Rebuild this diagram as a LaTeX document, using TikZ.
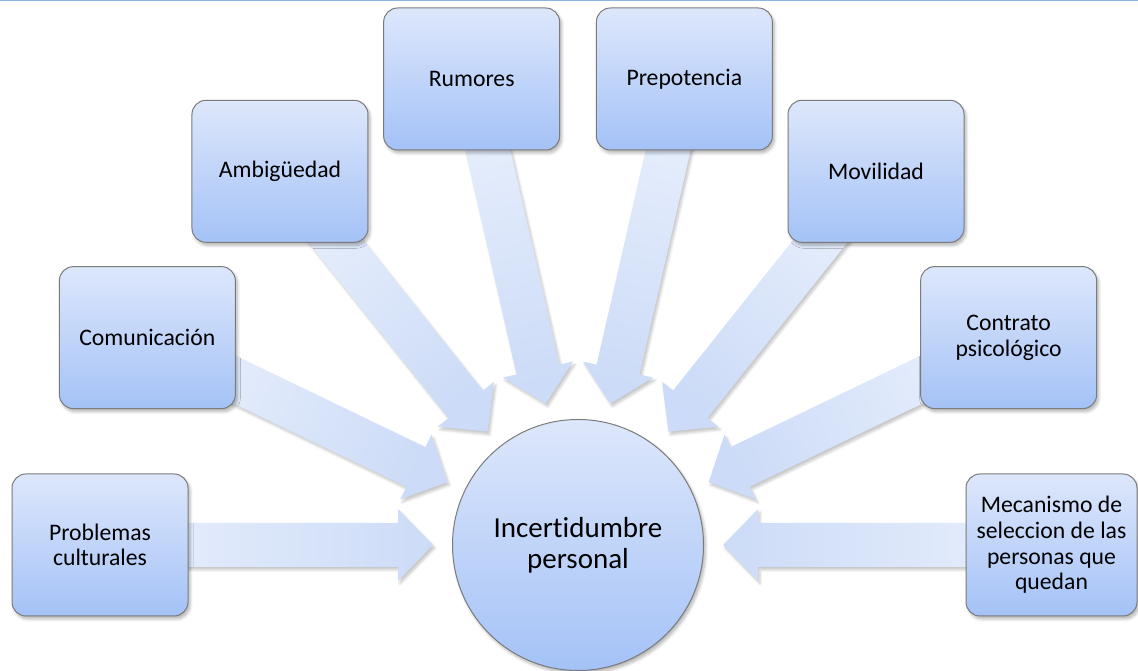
\documentclass[tikz,border=0pt]{standalone}
\usepackage{fontspec}
\setmainfont{Carlito}[RawFeature={-liga;-clig;-calt;-dlig}]
\usetikzlibrary{calc,shadows.blur}
\pgfdeclarelayer{bg}
\pgfsetlayers{bg,main}

\definecolor{boxtop}{HTML}{DDE7FB}
\definecolor{boxbot}{HTML}{A4C2F7}
\definecolor{boxline}{HTML}{7B7B7B}
\definecolor{arrowtail}{HTML}{E6EEFC}
\definecolor{arrowtip}{HTML}{CCDBF7}
\definecolor{rulecol}{HTML}{8DB4E2}

\newcommand\factorfont{\fontsize{23.7}{25.7}\selectfont}
\newcommand\corefont{\fontsize{29}{31}\selectfont}

\tikzset{
  softshadow/.style={blur shadow={shadow xshift=2pt, shadow yshift=-3pt,
      shadow opacity=30, shadow blur steps=6, shadow blur radius=3pt}},
  factor/.style={rectangle, rounded corners=14pt, draw=boxline, line width=1pt,
      top color=boxtop, bottom color=boxbot, minimum width=176pt,
      minimum height=142pt, inner sep=3pt, align=center, font=\factorfont,
      text=black, softshadow},
  core/.style={circle, draw=boxline, line width=1pt, top color=boxtop,
      bottom color=boxbot, minimum size=251pt, inner sep=0pt, align=center,
      font=\corefont, softshadow},
  blockarrow/.style={top color=arrowtip, bottom color=arrowtail,
      blur shadow={shadow xshift=2pt, shadow yshift=-3pt, shadow opacity=22,
      shadow blur steps=5, shadow blur radius=2.5pt}},
}

\begin{document}
\begin{tikzpicture}[x=1pt, y=1pt]
  \useasboundingbox (0,0) rectangle (1138,671);

  % thin rule along the top edge
  \draw[rulecol, line width=1.6pt] (0,670.4) -- (1138,670.4);

  % central circle
  \node[core] (C) at (578,126) {Incertidumbre\\personal};

  % surrounding factors on a half ring
  \node[factor] (b0) at ($(C)+(180:478)$) {Problemas\\culturales};
  \node[factor] (b1) at ($(C)+(180-180/7:478)$) {Comunicación};
  \node[factor] (b2) at ($(C)+(180-360/7:478)$) {Ambigüedad};
  \node[factor] (b3) at ($(C)+(180-540/7:478)$) {Rumores};
  \node[factor] (b4) at ($(C)+(540/7:478)$) {Prepotencia};
  \node[factor] (b5) at ($(C)+(360/7:478)$) {Movilidad};
  \node[factor] (b6) at ($(C)+(180/7:478)$) {Contrato\\psicológico};
  \node[factor, minimum width=171pt] (b7) at (1051.5,126)
       {Mecanismo de\\seleccion de las\\personas que\\quedan};

  % block arrows from every factor to the circle
  \begin{pgfonlayer}{bg}
    \foreach \k/\a in {0/180, 1/154.2857, 2/128.5714, 3/102.8571,
                       4/77.1429, 5/51.4286, 6/25.7143, 7/0} {
      \pgfmathsetmacro\sa{\a+90}
      \path[blockarrow, shading angle=\sa]
        ($(C)!145pt!(b\k)$)
        -- ($(C)!180pt!(b\k)!36pt!90:(b\k)$)
        -- ($(C)!180pt!(b\k)!22pt!90:(b\k)$)
        -- ($(C)!440pt!(b\k)!22pt!90:(b\k)$)
        -- ($(C)!440pt!(b\k)!22pt!-90:(b\k)$)
        -- ($(C)!180pt!(b\k)!22pt!-90:(b\k)$)
        -- ($(C)!180pt!(b\k)!36pt!-90:(b\k)$)
        -- cycle;
    }
  \end{pgfonlayer}
\end{tikzpicture}
\end{document}
